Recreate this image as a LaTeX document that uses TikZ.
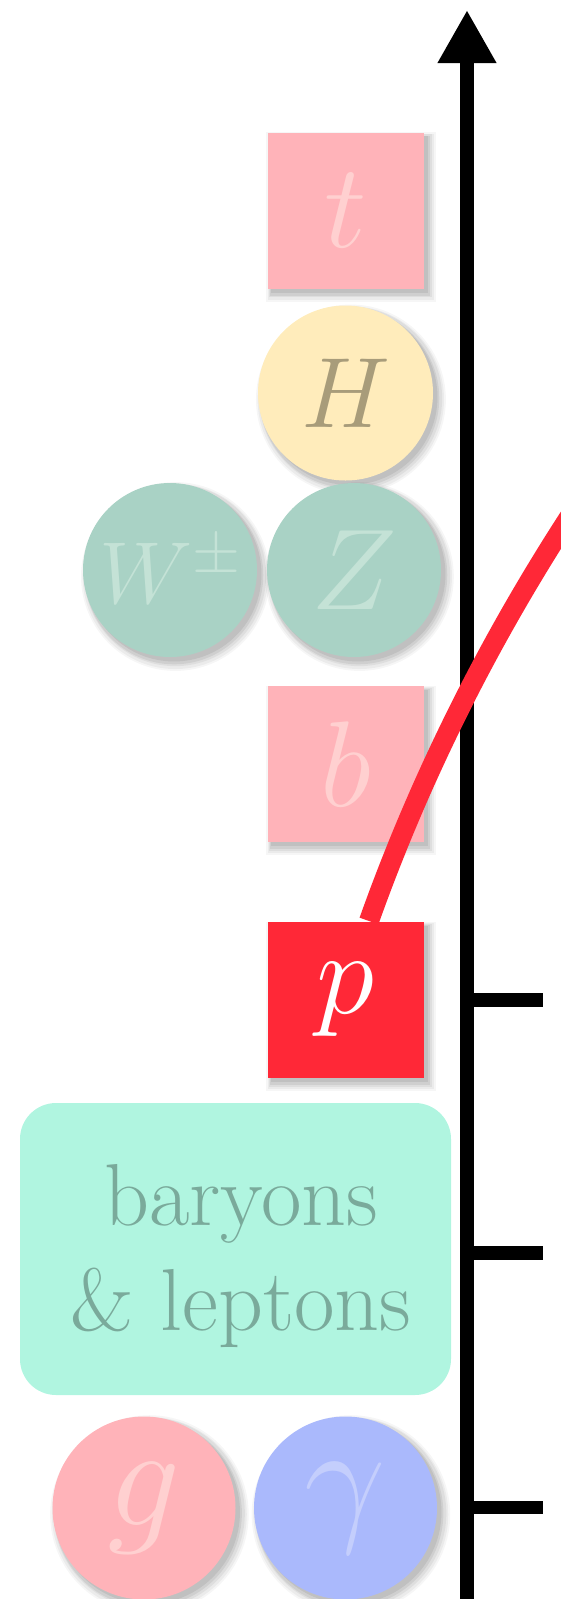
\RequirePackage{fix-cm}
\documentclass[tikz,border=0pt]{standalone}
\usetikzlibrary{arrows.meta,shadows,calc}
\definecolor{pinkfill}{HTML}{FFB3B9}
\definecolor{pinktext}{HTML}{FFD0D0}
\definecolor{higgsfill}{HTML}{FFECBB}
\definecolor{higgstext}{HTML}{A89C7A}
\definecolor{ewfill}{HTML}{A9D2C5}
\definecolor{ewtext}{HTML}{C4E2D6}
\definecolor{protonred}{HTML}{FF2837}
\definecolor{blfill}{HTML}{B0F5E0}
\definecolor{bltext}{HTML}{7AAA9B}
\definecolor{gammafill}{HTML}{AAB9FC}
\definecolor{gammatext}{HTML}{C4CEFC}
\begin{document}
\begin{tikzpicture}[x=1pt,y=-1pt,
  shad/.style={
    drop shadow={shadow xshift=5pt, shadow yshift=-6pt, shadow scale=1.085, fill=black, opacity=0.035},
    drop shadow={shadow xshift=5pt, shadow yshift=-6pt, shadow scale=1.065, fill=black, opacity=0.045},
    drop shadow={shadow xshift=5pt, shadow yshift=-5pt, shadow scale=1.045, fill=black, opacity=0.055},
    drop shadow={shadow xshift=4pt, shadow yshift=-5pt, shadow scale=1.025, fill=black, opacity=0.065},
    drop shadow={shadow xshift=4pt, shadow yshift=-4pt, shadow scale=1.005, fill=black, opacity=0.075}},
  sqbox/.style={shad, rectangle, minimum width=156pt, minimum height=156pt, inner sep=0pt},
  disc/.style={shad, circle, inner sep=0pt},
  axisline/.style={line width=13.3pt},
  tickline/.style={line width=13.3pt},
  curveline/.style={line width=20pt, protonred}
]
\clip (0,0) rectangle (561,1599);
% particles
\node[sqbox, fill=pinkfill, text=pinktext, font=\fontsize{120}{120}\selectfont] (t) at (345.5,210.5) {$t$};
\node[disc, minimum size=175pt, fill=higgsfill, text=higgstext, font=\fontsize{100}{100}\selectfont] (H) at (345.5,393) {$H$};
\node[disc, minimum size=174pt, fill=ewfill, text=ewtext, font=\fontsize{88}{88}\selectfont] (W) at (170,570) {$W^\pm$};
\node[disc, minimum size=174pt, fill=ewfill, text=ewtext, font=\fontsize{115}{115}\selectfont] (Z) at (354,570) {$Z$};
\node[sqbox, fill=pinkfill, text=pinktext, font=\fontsize{122}{122}\selectfont] (b) at (345.5,764) {$b$};
\node[rectangle, rounded corners=36pt, fill=blfill, minimum width=431pt, minimum height=292pt] (bl) at (235.5,1249) {};
\node[text=bltext, align=center, font=\fontsize{88}{105}\selectfont] (bltxt) at (241,1256) {baryons\\\& leptons};
\node[disc, minimum size=183pt, fill=pinkfill, text=pinktext, font=\fontsize{145}{145}\selectfont] (g) at (144,1508) {$g$};
\node[disc, minimum size=183pt, fill=gammafill, text=gammatext, font=\fontsize{145}{145}\selectfont] (gam) at (345.5,1508) {$\gamma$};
% axis
\coordinate (axbot) at (467,1620);
\coordinate (axtop) at (467,10);
\draw[axisline, -{Triangle[width=55pt,length=53pt]}] (axbot) -- (axtop);
\coordinate (tka) at (467,1000);
\coordinate (tkae) at (543,1000);
\coordinate (tkb) at (467,1253);
\coordinate (tkbe) at (543,1253);
\coordinate (tkc) at (467,1507.5);
\coordinate (tkce) at (543,1507.5);
\draw[tickline] (tka) -- (tkae);
\draw[tickline] (tkb) -- (tkbe);
\draw[tickline] (tkc) -- (tkce);
% curve
\coordinate (cstart) at (369,921);
\coordinate (cend) at (570,516);
\draw[curveline] (cstart) .. controls (420.3,777) and (488.3,641.9) .. (cend);
% proton
\node[sqbox, fill=protonred, text=white, font=\fontsize{118}{118}\selectfont] (p) at (345.5,1000) {$p$};
\end{tikzpicture}
\end{document}
